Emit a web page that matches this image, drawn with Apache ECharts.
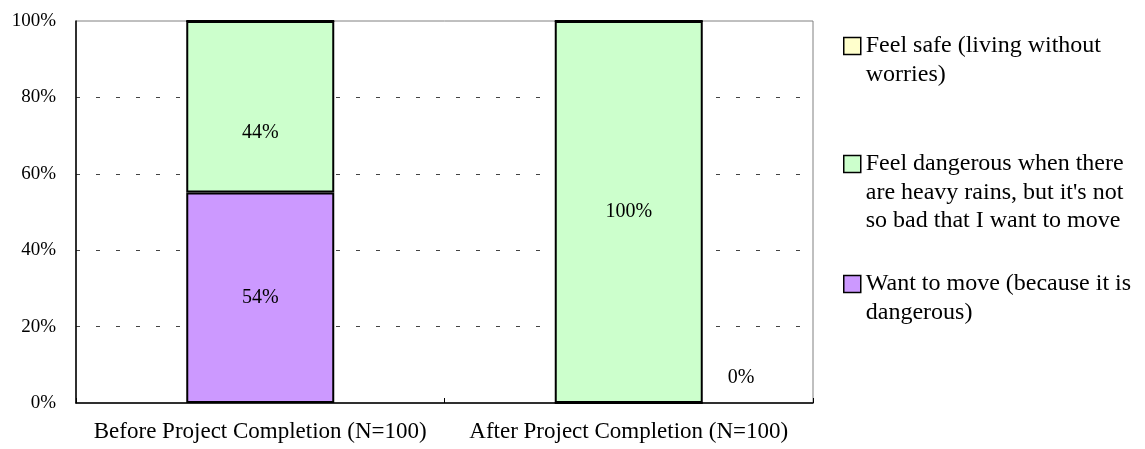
<!DOCTYPE html>
<html>
<head>
<meta charset="utf-8">
<script src="https://cdn.jsdelivr.net/npm/echarts@6/dist/echarts.min.js"></script>
<style>
  html, body { margin: 0; padding: 0; background: #fff; }
  #chart { width: 1145px; height: 449px; }
</style>
</head>
<body>
<div id="chart"></div>
<script>
// Survey answers (%), before and after the project
const categories = ['Before Project Completion (N=100)', 'After Project Completion (N=100)'];
const seriesNames = [
  'Feel safe (living without worries)',
  "Feel dangerous when there are heavy rains, but it's not so bad that I want to move",
  'Want to move (because it is dangerous)'
];
const legendText = [
  'Feel safe (living without\nworries)',
  "Feel dangerous when there\nare heavy rains, but it's not\nso bad that I want to move",
  'Want to move (because it is\ndangerous)'
];
const feelSafe = [0, 0];
const feelDangerous = [44, 100];
const wantMove = [54, 0];
const yTicks = [0, 20, 40, 60, 80, 100];

const FONT = '"Liberation Serif", "Times New Roman", serif';
const LEGEND_LINE = 28.5;
const ICON = 17;

// each column is drawn as a 100% stack
const totals = categories.map((_, i) => feelSafe[i] + feelDangerous[i] + wantMove[i]);
const share = (arr) => arr.map((v, i) => totals[i] ? v / totals[i] * 100 : 0);

function labelled(raw, shown, extra) {
  return share(raw).map((v, i) => {
    const item = { value: v, raw: raw[i] };
    if (shown[i]) {
      item.label = Object.assign({ show: true }, extra && extra[i] ? extra[i] : {});
    }
    return item;
  });
}

const labelStyle = {
  fontFamily: FONT, fontSize: 20, color: '#000',
  formatter: (p) => p.data.raw + '%'
};

const chart = echarts.init(document.getElementById('chart'));

const barBase = {
  type: 'bar', stack: 'total', barWidth: 148,
  label: Object.assign({ show: false, position: 'inside' }, labelStyle),
  emphasis: { disabled: true }
};

// legend swatch sits beside the first line of a wrapped entry
function swatchPath(lines) {
  const h = lines * LEGEND_LINE;
  const y0 = (LEGEND_LINE - ICON) / 2;
  const y1 = y0 + ICON;
  return 'path://M0,' + y0 + 'L' + ICON + ',' + y0 + 'L' + ICON + ',' + y1 + 'L0,' + y1 +
    'Z M0,0 M' + ICON + ',' + h;
}

function legendFor(idx, top) {
  const lines = legendText[idx].split('\n').length;
  return {
    data: [seriesNames[idx]],
    left: 843, top: top, orient: 'vertical', padding: 0,
    icon: swatchPath(lines), itemWidth: ICON, itemHeight: lines * LEGEND_LINE, itemGap: 0,
    itemStyle: { borderColor: '#000', borderWidth: 1.5 },
    selectedMode: false,
    formatter: () => legendText[idx],
    textStyle: { fontFamily: FONT, fontSize: 24, color: '#000', lineHeight: LEGEND_LINE }
  };
}

chart.setOption({
  animation: false,
  backgroundColor: '#fff',
  grid: {
    left: 76, top: 21, width: 737, height: 382,
    show: true, borderColor: '#808080', borderWidth: 1, backgroundColor: 'transparent'
  },
  legend: [legendFor(0, 31), legendFor(1, 149), legendFor(2, 269)],
  xAxis: {
    type: 'category', data: categories,
    axisLine: { lineStyle: { color: '#000', width: 1.5 } },
    axisTick: { show: true, inside: true, length: 5, lineStyle: { color: '#000' } },
    axisLabel: { interval: 0, hideOverlap: false, fontFamily: FONT, fontSize: 23, color: '#000', margin: 17 }
  },
  yAxis: {
    type: 'value', min: 0, max: 100, interval: 20,
    axisLine: { show: true, lineStyle: { color: '#000', width: 1.5 } },
    axisTick: { show: false },
    axisLabel: {
      fontFamily: FONT, fontSize: 19, color: '#000', margin: 20,
      formatter: (v) => yTicks.includes(v) ? v + '%' : ''
    },
    splitLine: {
      showMinLine: false, showMaxLine: false,
      lineStyle: { color: '#444', type: [4, 16], width: 1 }
    }
  },
  series: [
    Object.assign({}, barBase, {
      name: seriesNames[2],
      itemStyle: { color: '#CC99FF', borderColor: '#000', borderWidth: 2 },
      data: labelled(wantMove, [true, true], [null, { position: 'right', distance: 24, offset: [0, -25] }])
    }),
    Object.assign({}, barBase, {
      name: seriesNames[1],
      itemStyle: { color: '#CCFFCC', borderColor: '#000', borderWidth: 2 },
      data: labelled(feelDangerous, [true, true], [{ offset: [0, 26] }, null])
    }),
    Object.assign({}, barBase, {
      name: seriesNames[0],
      itemStyle: { color: '#FFFFCC', borderColor: '#000', borderWidth: 2 },
      data: labelled(feelSafe, [false, false])
    })
  ]
});
</script>
</body>
</html>
